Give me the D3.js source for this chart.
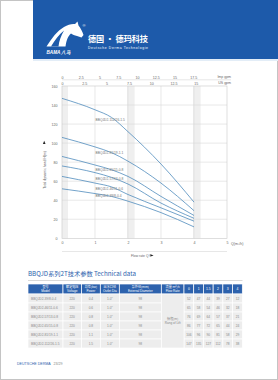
<!DOCTYPE html>
<html><head><meta charset="utf-8">
<script src="https://cdn.jsdelivr.net/npm/d3@7"></script>
<style>
html,body{margin:0;padding:0;background:#fff;}
svg{display:block;font-family:"Liberation Sans",Arial,sans-serif;}
</style></head><body>
<svg id="c" width="278" height="380"></svg>
<script>
// ---------- data ----------
const flows = [0, 1, 1.5, 2, 3, 4];
const models = ["BBQJD2-39/8-0.4","BBQJD2-46/11-0.6","BBQJD2-57/13-0.8","BBQJD2-65/15-0.8","BBQJD2-81/19-1.1","BBQJD2-112/26-1.5"];
const voltage = ["220","220","220","220","220","220"];
const power = ["0.4","0.6","0.8","0.8","1.1","1.5"];
const outlet = ['1.0"','1.0"','1.0"','1.0"','1.0"','1.0"'];
const extDia = ["98","98","98","98","98","98"];
const head39 = [52, 47, 44, 39, 27, 12];
const head46 = [65, 58, 54, 46, 32, 18];
const head57 = [76, 69, 64, 57, 37, 21];
const head65 = [86, 77, 72, 65, 44, 24];
const head81 = [106, 96, 90, 81, 58, 29];
const head112 = [147, 135, 127, 112, 78, 38];
const curveLabelY = [44.5, 51.5, 62, 72, 90, 124.5];
const xTicks = [0, 1, 2, 3, 4, 5];
const yTicks = [0, 20, 40, 60, 80, 100, 120, 140, 160];
const impTicks = [0, 2.5, 5, 7.5, 10, 12.5, 15, 17.5];
const usTicks = [0, 2.5, 5, 7.5, 10, 12.5, 15];
const bands = [[0, 0.18], [1.97, 2.2], [3.97, 4.2]];
const heads = [head39, head46, head57, head65, head81, head112];

// ---------- setup ----------
const svg = d3.select("#c");
const blue = "#1d5aaa";
const x = d3.scaleLinear().domain([0, 5]).range([62, 227]);
const y = d3.scaleLinear().domain([0, 160]).range([238.3, 86]);
const xImp = d3.scaleLinear().domain([0, 5 * 4.4]).range([62, 227]);
const xUs = d3.scaleLinear().domain([0, 5 * 3.7]).range([62, 227]);

// page frame
svg.append("rect").attr("x",0.5).attr("y",0.5).attr("width",277).attr("height",379)
  .attr("fill","#fff").attr("stroke","#c4c4c4").attr("stroke-width",1);

// header
svg.append("rect").attr("x",33).attr("y",0).attr("width",245).attr("height",59).attr("fill",blue);
svg.append("rect").attr("x",33).attr("y",59).attr("width",245).attr("height",2).attr("fill","#e3edf7");
// horse logo
svg.append("path")
  .attr("d","M46.5,46.5 C52,38 57,31 64,27 C68,24.5 72,23.5 75,24 L77.5,21.5 L78.5,25.5 C80.5,28 82.5,31.5 83.5,35 L81.5,37.5 L77,36 C74.5,35.5 72.5,34.5 71,33.5 C68,36 66.5,40 65.5,46.5 Z")
  .attr("fill","#fff");
svg.append("path")
  .attr("d","M51,46.5 C55,40 59,34.5 64,30.5 C61,36 59,41 58.5,46.5 Z")
  .attr("fill",blue);
svg.append("text").attr("x",46.5).attr("y",53.5).attr("fill","#fff").attr("font-size",4.6)
  .attr("font-weight","bold").attr("font-style","italic").text("BAMA 八马");
svg.append("text").attr("x",82.5).attr("y",27).attr("fill","#fff").attr("font-size",4).text("®");
svg.append("text").attr("x",88).attr("y",42).attr("fill","#fff").attr("font-size",8.2)
  .attr("font-weight","bold").attr("font-family","Noto Sans CJK SC").attr("textLength",60).text("德国 · 德玛科技");
svg.append("text").attr("x",88).attr("y",48.8).attr("fill","#fff").attr("font-size",3.4)
  .attr("textLength",60).text("Deutsche Derma Technologie");

// ---------- chart ----------
const g = svg.append("g");
// bands
g.selectAll("rect.band").data(bands).join("rect").attr("class","band")
  .attr("x",d=>x(d[0])).attr("width",d=>x(d[1])-x(d[0]))
  .attr("y",y(160)).attr("height",y(0)-y(160)).attr("fill","#efefef");
// grid
g.append("g").selectAll("line").data(xTicks.slice(1,5)).join("line")
  .attr("x1",d=>x(d)).attr("x2",d=>x(d)).attr("y1",y(160)).attr("y2",y(0))
  .attr("stroke","#d8d8d8").attr("stroke-width",0.6);
g.append("g").selectAll("line").data(yTicks.slice(1,8)).join("line")
  .attr("x1",x(0)).attr("x2",x(5)).attr("y1",d=>y(d)).attr("y2",d=>y(d))
  .attr("stroke","#d8d8d8").attr("stroke-width",0.6);
g.append("rect").attr("x",x(0)).attr("y",y(160)).attr("width",x(5)-x(0)).attr("height",y(0)-y(160))
  .attr("fill","none").attr("stroke","#c8c8c8").attr("stroke-width",0.6);

// axes
const axB = g.append("g").attr("transform",`translate(0,${y(0)+2})`)
  .call(d3.axisBottom(x).tickValues(xTicks).tickSize(0).tickPadding(0).tickFormat(d3.format("d")));
const axL = g.append("g").attr("transform",`translate(${x(0)-4.5},0)`)
  .call(d3.axisLeft(y).tickValues(yTicks).tickSize(0).tickPadding(0));
const axT1 = g.append("g").attr("transform",`translate(0,78.5)`)
  .call(d3.axisTop(xImp).tickValues(impTicks).tickSize(0).tickPadding(0).tickFormat(d=>String(d)));
const axT2 = g.append("g").attr("transform",`translate(0,85)`)
  .call(d3.axisTop(xUs).tickValues(usTicks).tickSize(0).tickPadding(0).tickFormat(d=>String(d)));
[axB,axL,axT1,axT2].forEach(a=>{
  a.select(".domain").remove();
  a.selectAll("text").attr("font-size",3.6).attr("fill","#666").attr("font-family","Liberation Sans");
});
axB.selectAll("text").attr("dy","0.9em");
g.append("line").attr("x1",x(0)).attr("x2",231).attr("y1",79.8).attr("y2",79.8)
  .attr("stroke","#cfcfcf").attr("stroke-width",0.5);
g.append("text").attr("x",231).attr("y",77.5).attr("text-anchor","end").attr("font-size",3.5).attr("fill","#666").text("Imp gpm");
g.append("text").attr("x",231).attr("y",84).attr("text-anchor","end").attr("font-size",3.5).attr("fill","#666").text("US gpm");
g.append("text").attr("x",231).attr("y",245).attr("font-size",3.6).attr("fill","#666").text("Q(m³/h)");
// bottom line and flow label
g.append("line").attr("x1",x(0)).attr("x2",x(5)).attr("y1",251.5).attr("y2",251.5)
  .attr("stroke","#cfcfcf").attr("stroke-width",0.5);
g.append("text").attr("x",131).attr("y",257).attr("font-size",3.4).attr("fill","#666").text("Flow rate Q");
g.append("path").attr("d","M150.5,254.2 L150.5,256.6 L153.6,255.4 Z").attr("fill","#222");
g.append("rect").attr("x",149.8).attr("y",254.2).attr("width",0.5).attr("height",2.4).attr("fill","#222");
// y title
const yt = g.append("g").attr("transform","translate(45.5,170) rotate(-90)");
yt.append("text").attr("text-anchor","middle").attr("font-size",3.4).attr("fill","#666").attr("y",0).text("Total dynamic head H(m)");
yt.append("path").attr("d","M26,-2.6 L26,0 L29.2,-1.3 Z").attr("fill","#222");

// curves
const line = d3.line().x((d,i)=>x(flows[i])).y(d=>y(d)).curve(d3.curveMonotoneX);
g.append("g").selectAll("path").data(heads).join("path")
  .attr("d",d=>line(d)).attr("fill","none").attr("stroke","#4f8bbd").attr("stroke-width",0.8);
g.append("g").selectAll("text").data(models).join("text")
  .attr("x",x(1)+0.5).attr("y",(d,i)=>y(curveLabelY[i])+1.2)
  .attr("font-size",3.3).attr("fill","#777").text(d=>d);

// ---------- table ----------
svg.append("text").attr("x",28).attr("y",276.3).attr("font-size",5.8).attr("fill","#2d62ad")
  .attr("textLength",108).attr("lengthAdjust","spacingAndGlyphs")
  .attr("font-family","Noto Sans CJK SC, Liberation Sans").text("BBQJD系列2T技术参数 Technical data");
svg.append("line").attr("x1",28).attr("x2",242.5).attr("y1",280.5).attr("y2",280.5)
  .attr("stroke","#c9c9c9").attr("stroke-width",0.7);

const colX = [28, 63, 81.5, 100.3, 119.3, 161.3, 184];
const flowColW = (242.3 - 184) / 6;
flows.forEach((f,i)=>colX.push(184 + flowColW*(i+1)));
const headTop = 284, headH = 10, rowH = 9;
const headers = [["型号","Model"],["额定电压","Voltage"],["功率(kw)","Power"],["出水口径","Outlet Dia"],["泵外径(mm)","External Diameter"],["流量 m³/h","Flow Rate"]];
const tg = svg.append("g").attr("font-size",3.3);
// header cells
const nCols = colX.length - 1;
for (let c = 0; c < nCols; c++) {
  tg.append("rect").attr("x",colX[c]).attr("y",headTop).attr("width",colX[c+1]-colX[c]).attr("height",headH)
    .attr("fill","#2d62ad").attr("stroke","#fff").attr("stroke-width",0.7);
  const cx = (colX[c]+colX[c+1])/2;
  if (c < 6) {
    tg.append("text").attr("x",cx).attr("y",headTop+4.2).attr("text-anchor","middle").attr("fill","#fff")
      .attr("font-size",3.1).attr("font-family","Noto Sans CJK SC, Liberation Sans").text(headers[c][0]);
    tg.append("text").attr("x",cx).attr("y",headTop+8).attr("text-anchor","middle").attr("fill","#fff")
      .attr("font-size",3.1).text(headers[c][1]);
  } else {
    tg.append("text").attr("x",cx).attr("y",headTop+6.3).attr("text-anchor","middle").attr("fill","#fff")
      .attr("font-size",3.4).text(String(flows[c-6]));
  }
}
// body cells
const bodyTop = headTop + headH;
models.forEach((m,r)=>{
  const vals = [m, voltage[r], power[r], outlet[r], extDia[r], null].concat(heads[r]);
  vals.forEach((v,c)=>{
    if (c === 5) return;
    const yy = bodyTop + r*rowH;
    tg.append("rect").attr("x",colX[c]).attr("y",yy).attr("width",colX[c+1]-colX[c]).attr("height",rowH)
      .attr("fill","#ededed").attr("stroke","#fff").attr("stroke-width",0.7);
    const tx = c === 0 ? colX[0]+3 : (colX[c]+colX[c+1])/2;
    tg.append("text").attr("x",tx).attr("y",yy+rowH/2+1.2).attr("text-anchor",c===0?"start":"middle")
      .attr("fill","#888").attr("font-size",3.2).text(String(v));
  });
});
// merged lift cell
tg.append("rect").attr("x",colX[5]).attr("y",bodyTop).attr("width",colX[6]-colX[5]).attr("height",rowH*6)
  .attr("fill","#ededed").attr("stroke","#fff").attr("stroke-width",0.7);
const mx = (colX[5]+colX[6])/2, my = bodyTop + rowH*3;
tg.append("text").attr("x",mx).attr("y",my-0.6).attr("text-anchor","middle").attr("fill","#888").attr("font-size",3.1)
  .attr("font-family","Noto Sans CJK SC, Liberation Sans").text("扬程(m)");
tg.append("text").attr("x",mx).attr("y",my+3.2).attr("text-anchor","middle").attr("fill","#888").attr("font-size",3.1).text("Rang of Lift");

// footer
svg.append("text").attr("x",17).attr("y",365).attr("font-size",3.6).attr("fill","#2d62ad").text("DEUTSCHE DERMA");
svg.append("text").attr("x",53.5).attr("y",365).attr("font-size",3.6).attr("fill","#888").text("23/29");
</script>
</body></html>
